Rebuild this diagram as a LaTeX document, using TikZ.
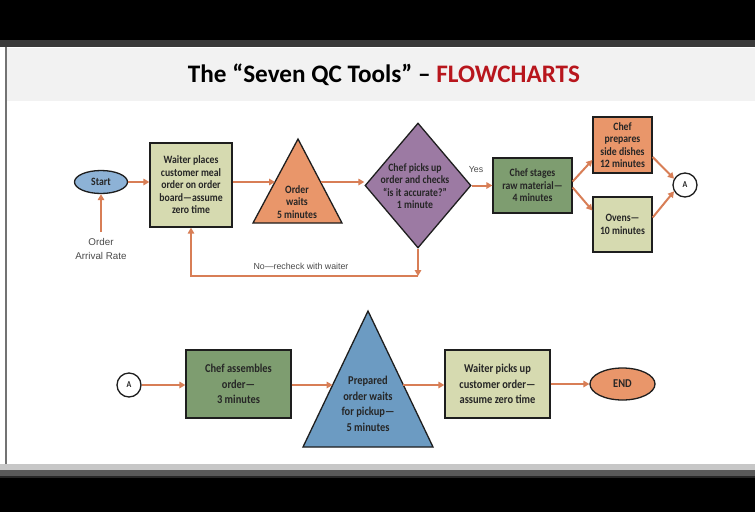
\documentclass[tikz,border=0pt]{standalone}
\usepackage{fontspec}
\setmainfont{Carlito}
\newfontfamily\labfont{Liberation Sans}
\newfontfamily\boxfont[FakeStretch=0.87]{Carlito}
\usetikzlibrary{shapes.geometric,arrows.meta}
\definecolor{arrowc}{RGB}{216,126,86}
\definecolor{olivec}{RGB}{214,218,176}
\definecolor{greenc}{RGB}{126,157,112}
\definecolor{orangec}{RGB}{233,150,106}
\definecolor{purplec}{RGB}{156,122,163}
\definecolor{startblue}{RGB}{141,178,214}
\definecolor{triblue}{RGB}{108,155,194}
\definecolor{boxborder}{RGB}{30,30,30}
\definecolor{txtc}{RGB}{38,38,38}
\definecolor{labc}{RGB}{74,74,74}
\definecolor{titlered}{RGB}{184,22,29}
\definecolor{band}{RGB}{58,58,58}
\definecolor{titlebg}{RGB}{242,242,242}
\begin{document}
\begin{tikzpicture}[x=1pt,y=-1pt,
  txt/.style={align=center, text=txtc, inner sep=0pt, font=\boxfont\fontsize{11.2}{12.5}\selectfont\bfseries},
  txtb/.style={align=center, text=txtc, inner sep=0pt, font=\boxfont\fontsize{12}{15.5}\selectfont\bfseries},
  box/.style={txt, draw=boxborder, line width=1.3pt},
  boxb/.style={txtb, draw=boxborder, line width=1.3pt},
  shp/.style={draw=boxborder, line width=1.3pt},
  lab/.style={align=center, text=labc, inner sep=0pt, font=\labfont\fontsize{9.8}{14}\selectfont},
  labs/.style={align=center, text=labc, inner sep=0pt, font=\labfont\fontsize{8.8}{11}\selectfont},
  flow/.style={draw=arrowc, line width=2pt, -{Triangle[length=6pt,width=6.5pt]}},
  conn/.style={circle, draw=boxborder, line width=1.3pt, fill=white, minimum size=24pt, inner sep=0pt, text=txtc, font=\boxfont\fontsize{9}{10}\selectfont\bfseries}]
\useasboundingbox (0,0) rectangle (755,512);
% background
\fill[black] (0,0) rectangle (755,512);
\fill[band] (0,40) rectangle (755,47);
\fill[white] (0,47) rectangle (755,464);
\fill[titlebg] (6,48) rectangle (755,101);
\fill[black!55] (5,47) rectangle (6.5,470);
\fill[black!22] (0,464) rectangle (755,470);
\fill[black!65] (0,470) rectangle (755,476);
\fill[black!85] (0,476) rectangle (755,478);
% title
\node[font=\fontsize{25.2}{30}\selectfont\bfseries, inner sep=0pt] (title) at (384,75)
  {The “Seven QC Tools” – \textcolor{titlered}{FLOWCHARTS}};
% top row
\node[ellipse, shp, fill=startblue, minimum width=53pt, minimum height=23pt, inner sep=0pt, txt] (start) at (101,182) {Start};
\node[lab] (arr) at (101,249) {Order\\Arrival Rate};
\node[box, fill=olivec, minimum width=82pt, minimum height=84pt] (waiter) at (191,185)
  {Waiter places\\customer meal\\order on order\\board—assume\\zero time};
\draw[shp, fill=orangec] (253,223) -- (298,139) -- (342,223) -- cycle;
\node[txt] (t1) at (297,202) {Order\\waits\\5 minutes};
\coordinate (t1L) at (275,182);
\coordinate (t1R) at (320.5,182);
\node[diamond, shp, fill=purplec, minimum width=106pt, minimum height=125pt, inner sep=0pt] (d) at (418,185.5) {};
\node[txt] (dt) at (415,186) {Chef picks up\\order and checks\\“is it accurate?”\\1 minute};
\node[labs] (yes) at (476,170) {Yes};
\node[box, fill=greenc, minimum width=79pt, minimum height=55pt] (stage) at (532.5,185.5)
  {Chef stages\\raw material—\\4 minutes};
\node[box, fill=orangec, minimum width=59pt, minimum height=56pt] (prep) at (622.5,145)
  {Chef\\prepares\\side dishes\\12 minutes};
\node[box, fill=olivec, minimum width=59pt, minimum height=55pt] (ovens) at (622.5,224.5)
  {Ovens—\\10 minutes};
\node[conn] (a1) at (685,185) {A};
\coordinate (fb) at (418,276);
\node[labs] (no) at (301,266) {No—recheck with waiter};
% top connectors
\draw[flow] ([yshift=6pt]arr.north) -- (start.south);
\draw[flow] (start.east) -- (waiter.west |- start.east);
\draw[flow] (waiter.east |- t1L) -- (t1L);
\draw[flow] (t1R) -- (d.west |- t1R);
\draw[flow] (d.east) -- (stage.west |- d.east);
\draw[flow] ([yshift=4pt]stage.east) -- ([yshift=-15pt]prep.west);
\draw[flow] ([yshift=-2pt]stage.east) -- ([yshift=14pt]ovens.west);
\draw[flow] ([yshift=-12pt]prep.east) -- (a1.150);
\draw[flow] ([yshift=7pt]ovens.east) -- (a1.210);
\draw[flow] (d.south) -- (fb);
\draw[flow] (fb) -| (waiter.south);
% bottom row
\node[conn] (a2) at (129,385) {A};
\node[boxb, fill=greenc, minimum width=105pt, minimum height=68pt] (asm) at (238.5,384)
  {Chef assembles\\order—\\3 minutes};
\draw[shp, fill=triblue] (303,447) -- (368,311) -- (433,447) -- cycle;
\node[txtb] (t2) at (368,404) {Prepared\\order waits\\for pickup—\\5 minutes};
\coordinate (t2L) at (332.6,385);
\coordinate (t2R) at (403.4,385);
\node[boxb, fill=olivec, minimum width=105pt, minimum height=68pt] (pick) at (497.5,384)
  {Waiter picks up\\customer order—\\assume zero time};
\node[ellipse, shp, fill=orangec, minimum width=65pt, minimum height=32pt, inner sep=0pt, txtb] (end) at (622.5,384) {END};
\draw[flow] (a2.east) -- (asm.west |- a2.east);
\draw[flow] (asm.east |- t2L) -- (t2L);
\draw[flow] (t2R) -- (pick.west |- t2R);
\draw[flow] (pick.east) -- (end.west);
\end{tikzpicture}
\end{document}
